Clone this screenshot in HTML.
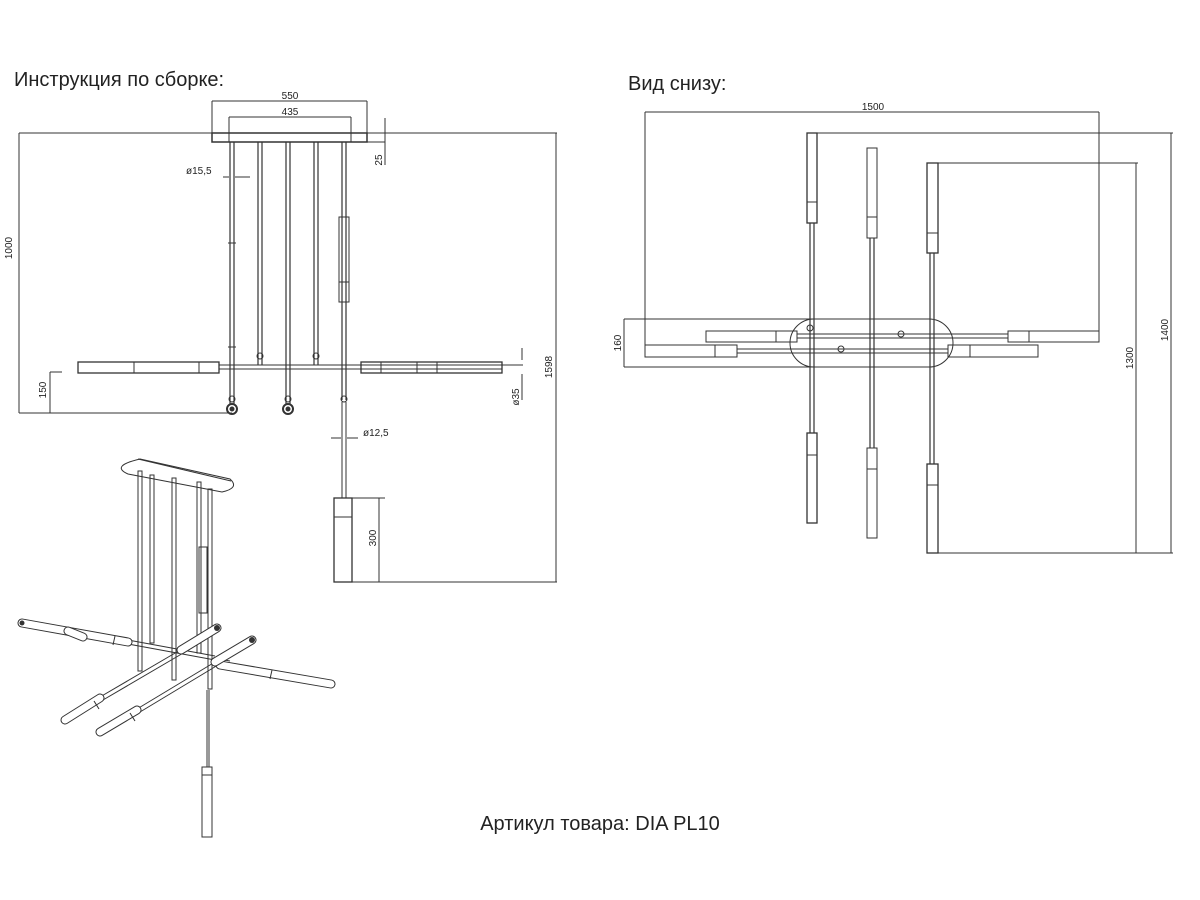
<!DOCTYPE html>
<html><head><meta charset="utf-8"><style>
html,body{margin:0;padding:0;background:#fff;}
svg{display:block}
text{font-family:"Liberation Sans",sans-serif;fill:#222}
</style></head><body>
<svg width="1200" height="900" viewBox="0 0 1200 900" xmlns="http://www.w3.org/2000/svg">
<rect width="1200" height="900" fill="#fff"/>
<text x="14" y="86" font-size="20">Инструкция по сборке:</text>
<text x="628" y="90" font-size="20">Вид снизу:</text>
<text x="600" y="830" font-size="20" text-anchor="middle">Артикул товара: DIA PL10</text>

<g stroke="#333" stroke-width="1" fill="none">
<!-- LEFT FRONT VIEW -->
<line x1="212" y1="101" x2="212" y2="142"/><line x1="367" y1="101" x2="367" y2="142"/>
<line x1="212" y1="101" x2="367" y2="101"/>
<line x1="229" y1="117" x2="351" y2="117"/><line x1="229" y1="117" x2="229" y2="142"/><line x1="351" y1="117" x2="351" y2="142"/>
<rect x="212" y="133" width="155" height="9" stroke-width="1.5"/>
<line x1="19" y1="133" x2="557" y2="133"/>
<line x1="367" y1="142" x2="385" y2="142"/>
<line x1="385" y1="118" x2="385" y2="165"/>
<line x1="19" y1="133" x2="19" y2="413"/>
<line x1="556" y1="133" x2="556" y2="582"/>
<!-- rods -->
<g stroke-width="1.2">
<line x1="230" y1="142" x2="230" y2="404"/><line x1="234" y1="142" x2="234" y2="404"/>
<line x1="258" y1="142" x2="258" y2="365"/><line x1="262" y1="142" x2="262" y2="365"/>
<line x1="286" y1="142" x2="286" y2="404"/><line x1="290" y1="142" x2="290" y2="404"/>
<line x1="314" y1="142" x2="314" y2="365"/><line x1="318" y1="142" x2="318" y2="365"/>
<line x1="342" y1="142" x2="342" y2="400"/><line x1="346" y1="142" x2="346" y2="400"/>
</g>
<rect x="339" y="217" width="10" height="85"/><line x1="339" y1="282" x2="349" y2="282"/>
<circle cx="260" cy="356" r="3"/><circle cx="316" cy="356" r="3"/>
<line x1="228" y1="243" x2="236" y2="243"/><line x1="228" y1="347" x2="236" y2="347"/>
<!-- horizontal bar -->
<line x1="219" y1="365" x2="523" y2="365"/><line x1="219" y1="369" x2="502" y2="369"/>
<rect x="78" y="362" width="141" height="11" stroke-width="1.3"/>
<line x1="134" y1="362" x2="134" y2="373"/><line x1="199" y1="362" x2="199" y2="373"/>
<rect x="361" y="362" width="141" height="11" stroke-width="1.3"/>
<line x1="381" y1="362" x2="381" y2="373"/><line x1="417" y1="362" x2="417" y2="373"/><line x1="437" y1="362" x2="437" y2="373"/>
<circle cx="232" cy="409" r="5" stroke-width="2"/><circle cx="232" cy="409" r="2" fill="#333"/>
<circle cx="288" cy="409" r="5" stroke-width="2"/><circle cx="288" cy="409" r="2" fill="#333"/>
<circle cx="232" cy="399" r="3"/><circle cx="288" cy="399" r="3"/><circle cx="344" cy="399" r="3"/>
<line x1="19" y1="413" x2="232" y2="413"/>
<line x1="50" y1="372" x2="50" y2="413"/><line x1="50" y1="372" x2="62" y2="372"/>
<line x1="522" y1="348" x2="522" y2="360"/><line x1="522" y1="374" x2="522" y2="400"/>
<!-- pendant -->
<line x1="342" y1="402" x2="342" y2="498"/><line x1="346" y1="402" x2="346" y2="498"/>
<line x1="331" y1="438" x2="341" y2="438"/><line x1="347" y1="438" x2="358" y2="438"/>
<rect x="334" y="498" width="18" height="84" stroke-width="1.3"/>
<line x1="334" y1="517" x2="352" y2="517"/>
<line x1="352" y1="498" x2="385" y2="498"/><line x1="379" y1="498" x2="379" y2="582"/>
<line x1="352" y1="582" x2="557" y2="582"/>
<line x1="223" y1="177" x2="229" y2="177"/><line x1="235" y1="177" x2="250" y2="177"/>
</g>
<g font-size="10">
<text x="290" y="99" text-anchor="middle">550</text>
<text x="290" y="115" text-anchor="middle">435</text>
<text x="186" y="174">ø15,5</text>
<text x="363" y="436">ø12,5</text>
<text transform="translate(12,248) rotate(-90)" text-anchor="middle">1000</text>
<text transform="translate(46,390) rotate(-90)" text-anchor="middle">150</text>
<text transform="translate(382,160) rotate(-90)" text-anchor="middle">25</text>
<text transform="translate(552,367) rotate(-90)" text-anchor="middle">1598</text>
<text transform="translate(519,397) rotate(-90)" text-anchor="middle">ø35</text>
<text transform="translate(376,538) rotate(-90)" text-anchor="middle">300</text>
<text x="873" y="110" text-anchor="middle">1500</text>
<text transform="translate(621,343) rotate(-90)" text-anchor="middle">160</text>
<text transform="translate(1133,358) rotate(-90)" text-anchor="middle">1300</text>
<text transform="translate(1168,330) rotate(-90)" text-anchor="middle">1400</text>
</g>

<!-- RIGHT BOTTOM VIEW -->
<g stroke="#333" stroke-width="1" fill="none">
<line x1="645" y1="112" x2="1099" y2="112"/>
<line x1="645" y1="112" x2="645" y2="357"/><line x1="1099" y1="112" x2="1099" y2="342"/>
<line x1="808" y1="133" x2="1173" y2="133"/>
<line x1="929" y1="553" x2="1173" y2="553"/>
<line x1="1171" y1="133" x2="1171" y2="553"/>
<line x1="929" y1="163" x2="1138" y2="163"/>
<line x1="1136" y1="163" x2="1136" y2="553"/>
<line x1="624" y1="319" x2="624" y2="367"/>
<path d="M624 319 H929 A24 24 0 0 1 929 367 H624"/>
<path d="M814 319 A24 24 0 0 0 814 367"/>
<!-- vertical bars -->
<g stroke-width="1.2">
<line x1="810" y1="223" x2="810" y2="433"/><line x1="814" y1="223" x2="814" y2="433"/>
<line x1="870" y1="238" x2="870" y2="448"/><line x1="874" y1="238" x2="874" y2="448"/>
<line x1="930" y1="253" x2="930" y2="464"/><line x1="934" y1="253" x2="934" y2="464"/>
</g>
<rect x="807" y="133" width="10" height="90" stroke-width="1.3"/><line x1="807" y1="202" x2="817" y2="202"/>
<rect x="807" y="433" width="10" height="90" stroke-width="1.3"/><line x1="807" y1="455" x2="817" y2="455"/>
<rect x="867" y="148" width="10" height="90"/><line x1="867" y1="217" x2="877" y2="217"/>
<rect x="867" y="448" width="10" height="90"/><line x1="867" y1="469" x2="877" y2="469"/>
<rect x="927" y="163" width="11" height="90" stroke-width="1.3"/><line x1="927" y1="233" x2="938" y2="233"/>
<rect x="927" y="464" width="11" height="89" stroke-width="1.3"/><line x1="927" y1="485" x2="938" y2="485"/>
<!-- horizontal bars -->
<rect x="706" y="331" width="91" height="11"/><line x1="776" y1="331" x2="776" y2="342"/>
<line x1="797" y1="334" x2="1008" y2="334"/><line x1="797" y1="338" x2="1008" y2="338"/>
<rect x="1008" y="331" width="91" height="11"/><line x1="1029" y1="331" x2="1029" y2="342"/>
<rect x="645" y="345" width="92" height="12"/><line x1="715" y1="345" x2="715" y2="357"/>
<line x1="737" y1="349" x2="948" y2="349"/><line x1="737" y1="353" x2="948" y2="353"/>
<rect x="948" y="345" width="90" height="12"/><line x1="970" y1="345" x2="970" y2="357"/>
<circle cx="810" cy="328" r="3"/><circle cx="841" cy="349" r="3"/><circle cx="901" cy="334" r="3"/>
</g>

<!-- ISOMETRIC -->
<g stroke="#333" stroke-width="1" fill="none">
<path d="M140 459 L230 479 Q240 488 222 492 L128 474 Q110 466 140 459 Z"/>
<line x1="138" y1="459" x2="231" y2="481"/>
<g stroke-width="1">
<rect x="138" y="471" width="4" height="200"/>
<rect x="150" y="475" width="4" height="168"/>
<rect x="172" y="478" width="4" height="202"/>
<rect x="197" y="482" width="4" height="171"/>
<rect x="208" y="489" width="4" height="200"/>
<rect x="199" y="547" width="8" height="66"/>
<line x1="207" y1="690" x2="207" y2="767"/><line x1="209" y1="690" x2="209" y2="767"/>
<rect x="202" y="767" width="10" height="70"/><line x1="202" y1="775" x2="212" y2="775"/>
</g>
<!-- thin rods -->
<line x1="128" y1="640" x2="215" y2="656"/><line x1="128" y1="644" x2="215" y2="660"/>
<line x1="182" y1="649" x2="100" y2="697"/><line x1="185" y1="652" x2="103" y2="700"/>
<line x1="215" y1="662" x2="137" y2="709"/><line x1="218" y1="665" x2="140" y2="712"/>
<line x1="213" y1="658" x2="230" y2="661"/>
</g>
<g stroke-linecap="round">
<line x1="22" y1="623" x2="128" y2="642" stroke="#333" stroke-width="9"/>
<line x1="22" y1="623" x2="128" y2="642" stroke="#fff" stroke-width="7"/>
<line x1="68" y1="631" x2="83" y2="637" stroke="#333" stroke-width="9"/>
<line x1="68" y1="631" x2="83" y2="637" stroke="#fff" stroke-width="7"/>
<line x1="220" y1="665" x2="331" y2="684" stroke="#333" stroke-width="9"/>
<line x1="220" y1="665" x2="331" y2="684" stroke="#fff" stroke-width="7"/>
<line x1="217" y1="628" x2="181" y2="650" stroke="#333" stroke-width="9"/>
<line x1="217" y1="628" x2="181" y2="650" stroke="#fff" stroke-width="7"/>
<line x1="100" y1="698" x2="65" y2="720" stroke="#333" stroke-width="9"/>
<line x1="100" y1="698" x2="65" y2="720" stroke="#fff" stroke-width="7"/>
<line x1="252" y1="640" x2="215" y2="662" stroke="#333" stroke-width="9"/>
<line x1="252" y1="640" x2="215" y2="662" stroke="#fff" stroke-width="7"/>
<line x1="137" y1="710" x2="100" y2="732" stroke="#333" stroke-width="9"/>
<line x1="137" y1="710" x2="100" y2="732" stroke="#fff" stroke-width="7"/>
</g>
<g fill="#333">
<circle cx="22" cy="623" r="2.5"/><circle cx="217" cy="628" r="3"/><circle cx="252" cy="640" r="3"/>
</g>
<g stroke="#333" fill="none">
<line x1="115" y1="636" x2="113" y2="645"/><line x1="272" y1="670" x2="270" y2="679"/>
<line x1="94" y1="701" x2="99" y2="709"/><line x1="130" y1="713" x2="135" y2="721"/>
</g>
</svg>
</body></html>
